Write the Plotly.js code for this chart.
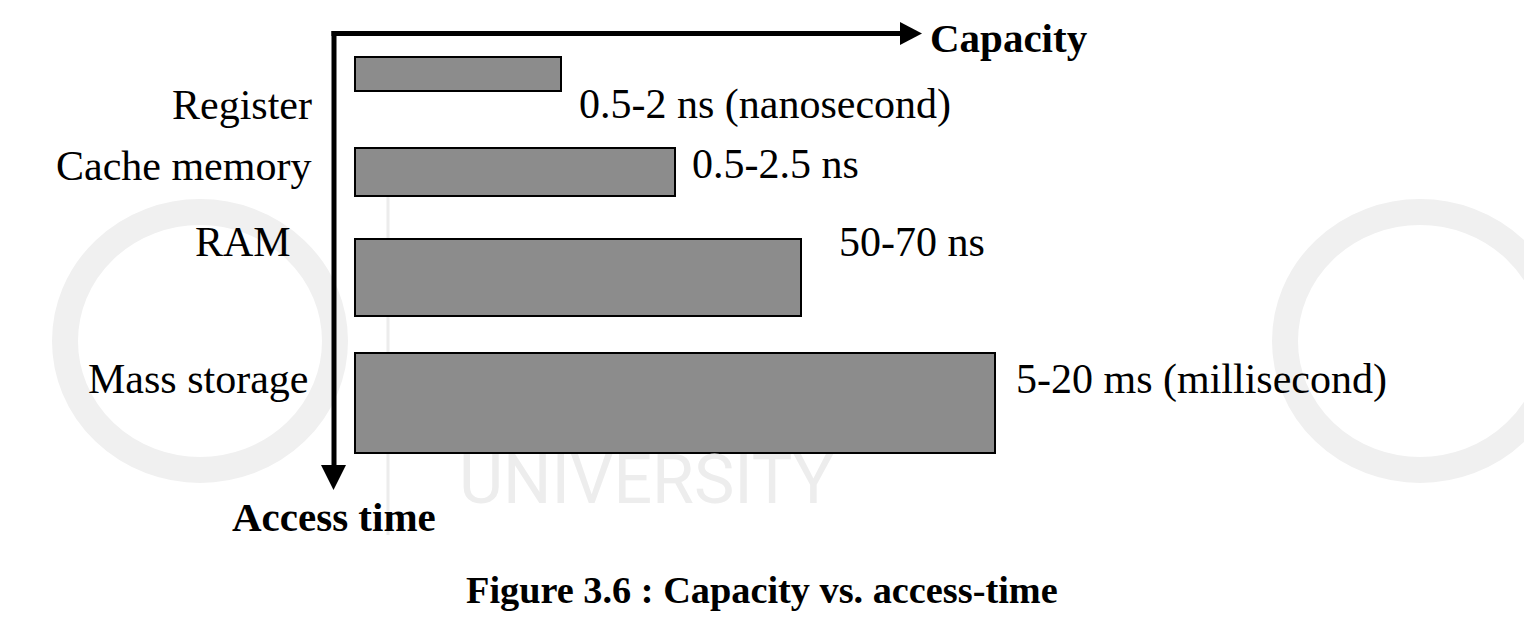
<!DOCTYPE html>
<html>
<head>
<meta charset="utf-8">
<script src="https://cdn.plot.ly/plotly-3.0.1.min.js"></script>
<style>html,body{margin:0;padding:0;background:#fff;}#chart{width:1524px;height:632px;}</style>
</head>
<body>
<div id="chart"></div>
<script>
// ---- data (relative units) ----
const categories = ["Register", "Cache memory", "RAM", "Mass storage"];
const capacity = [20.6, 32.0, 44.6, 64.0];          // relative capacity (bar length)
const accessFrom = [2.4, 11.5, 20.6, 32.0];         // relative access-time band start
const accessTo = [5.8, 16.3, 28.3, 42.0];           // relative access-time band end
const accessLabels = ["0.5-2 ns (nanosecond)", "0.5-2.5 ns", "50-70 ns", "5-20 ms (millisecond)"];
const xAxisTitle = "Capacity";
const yAxisTitle = "Access time";
const caption = "Figure 3.6 : Capacity vs. access-time";

// ---- layout helpers (pixel -> paper) ----
const W = 1524, H = 632;
const px = x => x / W;
const py = y => 1 - y / H;
const serif = "Liberation Serif, Times New Roman, serif";

const yMid = accessFrom.map((a, i) => (a + accessTo[i]) / 2);
const yWidth = accessFrom.map((a, i) => accessTo[i] - a);

const trace = {
  type: "bar",
  orientation: "h",
  x: capacity,
  y: yMid,
  width: yWidth,
  base: 0,
  marker: { color: "#8c8c8c", line: { color: "#000", width: 2 } },
  hoverinfo: "skip"
};

// label placement (pixel positions of text baselines)
const catPos = [[314, 118], [313, 179], [293, 255], [310, 392]];
const valPos = [[577, 117], [690, 177], [837, 255], [1014, 392]];
const fs = 42;
const midOff = 13;

const annotations = [];
categories.forEach((c, i) => {
  annotations.push({
    text: c, xref: "paper", yref: "paper",
    x: px(catPos[i][0]), y: py(catPos[i][1] - midOff),
    xanchor: "right", yanchor: "middle", showarrow: false,
    font: { family: serif, size: fs, color: "#000" }
  });
  annotations.push({
    text: accessLabels[i], xref: "paper", yref: "paper",
    x: px(valPos[i][0]), y: py(valPos[i][1] - midOff),
    xanchor: "left", yanchor: "middle", showarrow: false,
    font: { family: serif, size: fs, color: "#000" }
  });
});
annotations.push({
  text: "<b>" + xAxisTitle + "</b>", xref: "paper", yref: "paper",
  x: px(928), y: py(49 - 11), xanchor: "left", yanchor: "middle", showarrow: false,
  font: { family: serif, size: 41, color: "#000" }
});
annotations.push({
  text: "<b>" + yAxisTitle + "</b>", xref: "paper", yref: "paper",
  x: px(230), y: py(528 - 11), xanchor: "left", yanchor: "middle", showarrow: false,
  font: { family: serif, size: 41, color: "#000" }
});
annotations.push({
  text: "<b>" + caption + "</b>", xref: "paper", yref: "paper",
  x: px(762), y: py(603 - 13), xanchor: "center", yanchor: "middle", showarrow: false,
  font: { family: serif, size: 38.3, color: "#000" }
});
// faint watermark text
annotations.push({
  text: "UNIVERSITY", xref: "paper", yref: "paper",
  x: px(646), y: py(480), xanchor: "center", yanchor: "middle", showarrow: false,
  font: { family: "Roboto, sans-serif", size: 68, color: "#ededed" }
});

const shapes = [
  // watermark rings
  { type: "circle", xref: "paper", yref: "paper", layer: "below",
    x0: px(65), x1: px(335), y0: py(470), y1: py(212),
    line: { color: "#f0f0f0", width: 26 } },
  { type: "circle", xref: "paper", yref: "paper", layer: "below",
    x0: px(1285), x1: px(1555), y0: py(470), y1: py(212),
    line: { color: "#f0f0f0", width: 26 } },
  { type: "line", xref: "paper", yref: "paper", layer: "below",
    x0: px(388), x1: px(388), y0: py(150), y1: py(535),
    line: { color: "#ececec", width: 3 } },
  // horizontal axis arrow
  { type: "line", xref: "paper", yref: "paper",
    x0: px(331.5), x1: px(903), y0: py(33.5), y1: py(33.5),
    line: { color: "#000", width: 5 } },
  { type: "path", xref: "paper", yref: "paper",
    path: `M ${px(900)} ${py(22)} L ${px(922)} ${py(33.5)} L ${px(900)} ${py(45)} Z`,
    fillcolor: "#000", line: { color: "#000", width: 0 } },
  // vertical axis arrow
  { type: "line", xref: "paper", yref: "paper",
    x0: px(334), x1: px(334), y0: py(31), y1: py(468),
    line: { color: "#000", width: 5 } },
  { type: "path", xref: "paper", yref: "paper",
    path: `M ${px(321)} ${py(465)} L ${px(346)} ${py(465)} L ${px(333.5)} ${py(490)} Z`,
    fillcolor: "#000", line: { color: "#000", width: 0 } }
];

const layout = {
  width: W, height: H,
  margin: { l: 0, r: 0, t: 0, b: 0, pad: 0 },
  paper_bgcolor: "#fff", plot_bgcolor: "rgba(0,0,0,0)",
  showlegend: false,
  xaxis: { range: [-35.5, 116.9], visible: false, fixedrange: true },
  yaxis: { range: [59.9, -3.3], visible: false, fixedrange: true },
  annotations: annotations,
  shapes: shapes,
  bargap: 0
};

Plotly.newPlot("chart", [trace], layout, { staticPlot: true, displayModeBar: false });
</script>
</body>
</html>
